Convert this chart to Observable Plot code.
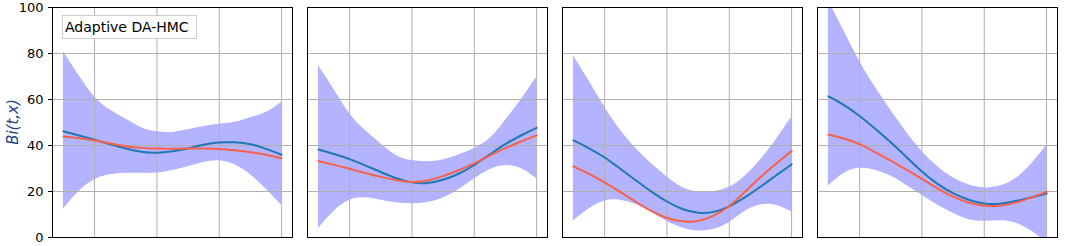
<!DOCTYPE html>
<html>
<head>
<meta charset="utf-8">
<script src="https://cdn.jsdelivr.net/npm/d3@7"></script>
<script src="https://cdn.jsdelivr.net/npm/@observablehq/plot@0.6"></script>
<style>
  html, body { margin: 0; padding: 0; background: #fff; }
  #wrap { position: relative; width: 1072px; height: 246px; font-family: "DejaVu Sans", sans-serif; }
  #legend { position: absolute; left: 62px; top: 15px; width: 131px; height: 22px; border: 1px solid #cccccc;
            background: #fff; font-size: 14px; line-height: 22px; padding-left: 2px; box-sizing: content-box; color: #000; }
  #ylabel { position: absolute; left: 12.5px; top: 122px; transform: translate(-50%, -50%) rotate(-90deg);
            font-style: italic; font-size: 15px; color: #1a3f85; white-space: nowrap; }
</style>
</head>
<body>
<div id="wrap">
  <div id="chart"></div>
  <div id="legend">Adaptive DA-HMC</div>
  <div id="ylabel">Bi(t,x)</div>
</div>
<script>
const panels = ["P1", "P2", "P3", "P4"];
const xs = [0.3, 0.35, 0.4, 0.45, 0.5, 0.55, 0.6, 0.65, 0.7, 0.75, 0.8, 0.85, 0.9, 0.95, 1.0];
const xTicks = [0.4, 0.6, 0.8, 1.0];
const yTicks = [0, 20, 40, 60, 80, 100];

const hi1 = [80.8, 70.4, 60.3, 55.2, 51.6, 47.3, 45.8, 45.4, 46.8, 48.3, 49.4, 49.7, 52.3, 53.8, 58.8];
const lo1 = [12.3, 20.5, 25.6, 27.5, 28.0, 28.0, 27.7, 29.2, 30.6, 32.8, 33.8, 32.0, 27.7, 21.2, 14.0];
const mean1 = [46.2, 44.4, 42.5, 40.5, 38.6, 37.1, 36.7, 37.4, 38.6, 40.5, 41.5, 41.5, 40.8, 38.6, 36.0];
const true1 = [43.9, 43.2, 42.2, 40.8, 39.6, 38.9, 38.6, 38.6, 38.7, 38.7, 38.6, 37.9, 37.1, 36.1, 34.4];

const hi2 = [74.7, 64.6, 53.0, 46.5, 40.8, 35.0, 33.2, 32.8, 33.5, 35.7, 38.6, 42.2, 50.9, 59.5, 69.7];
const lo2 = [3.9, 11.8, 16.9, 17.6, 16.2, 15.0, 14.5, 15.0, 16.9, 20.5, 25.6, 29.9, 31.8, 30.6, 25.6];
const mean2 = [38.2, 36.4, 34.2, 31.4, 28.5, 25.6, 23.7, 23.4, 24.9, 27.5, 31.4, 36.1, 40.8, 44.4, 47.7];
const true2 = [33.2, 31.6, 29.9, 28.0, 26.3, 24.9, 23.8, 24.6, 26.6, 29.2, 32.1, 35.7, 38.9, 41.8, 44.4];

const hi3 = [79.0, 68.2, 56.6, 46.5, 38.6, 32.1, 26.3, 21.2, 19.4, 19.8, 21.2, 26.3, 33.5, 42.2, 52.3];
const lo3 = [7.2, 12.6, 16.5, 16.5, 14.7, 11.1, 6.8, 3.9, 2.5, 3.2, 6.1, 11.8, 14.5, 14.7, 11.1];
const mean3 = [42.2, 38.9, 35.0, 29.9, 24.9, 19.8, 15.5, 12.1, 10.4, 10.8, 13.3, 17.3, 22.0, 27.0, 31.8];
const true3 = [30.9, 27.7, 24.1, 19.8, 15.5, 11.4, 8.2, 6.8, 6.8, 9.2, 13.3, 19.8, 26.3, 32.1, 37.6];

const hi4 = [103.0, 89.9, 76.2, 65.3, 55.2, 45.8, 37.1, 30.6, 25.6, 22.7, 21.2, 22.0, 24.9, 31.4, 40.0];
const lo4 = [22.3, 28.5, 30.6, 29.5, 27.0, 22.7, 18.4, 14.0, 10.4, 7.5, 6.8, 7.5, 6.8, 3.2, -2.0];
const mean4 = [61.4, 57.7, 53.0, 47.3, 41.5, 35.0, 28.5, 23.1, 19.1, 16.2, 14.5, 14.5, 15.8, 17.3, 19.1];
const true4 = [44.7, 43.2, 40.8, 37.1, 33.5, 29.5, 25.6, 21.2, 17.6, 15.0, 13.6, 13.6, 15.0, 17.3, 19.8];

const series = [
  [hi1, lo1, mean1, true1],
  [hi2, lo2, mean2, true2],
  [hi3, lo3, mean3, true3],
  [hi4, lo4, mean4, true4]
];
const rows = [];
series.forEach(([hi, lo, mean, tr], p) => {
  xs.forEach((x, i) => rows.push({panel: panels[p], x, hi: hi[i], lo: lo[i], mean: mean[i], truth: tr[i]}));
});

const curve = "basis";
const chart = Plot.plot({
  width: 1072,
  height: 246,
  marginLeft: 52,
  marginRight: 15,
  marginTop: 7,
  marginBottom: 9,
  style: {fontFamily: "DejaVu Sans, sans-serif", fontSize: "13px", color: "#000", background: "#fff"},
  fx: {domain: panels, paddingInner: 15 / 255, paddingOuter: 0, axis: null, label: null},
  x: {domain: [0.265, 1.035], axis: null},
  y: {domain: [0, 100], axis: null},
  marks: [
    Plot.areaY(rows, {fx: "panel", x: "x", y1: "lo", y2: "hi", fill: "#b3b3ff", curve, clip: true}),
    Plot.gridX(xTicks, {stroke: "#b0b0b0", strokeOpacity: 1, strokeWidth: 1}),
    Plot.gridY(yTicks, {stroke: "#b0b0b0", strokeOpacity: 1, strokeWidth: 1}),
    Plot.lineY(rows, {fx: "panel", x: "x", y: "mean", stroke: "#1f77b4", strokeWidth: 2, curve, clip: true}),
    Plot.lineY(rows, {fx: "panel", x: "x", y: "truth", stroke: "#fa6048", strokeWidth: 2, curve, clip: true}),
    Plot.frame({stroke: "#000", strokeWidth: 1}),
    Plot.axisY(yTicks, {anchor: "left", tickSize: 4, tickPadding: 5, fontSize: 13, stroke: "#000", label: null})
  ]
});
document.getElementById("chart").appendChild(chart);
</script>
</body>
</html>
